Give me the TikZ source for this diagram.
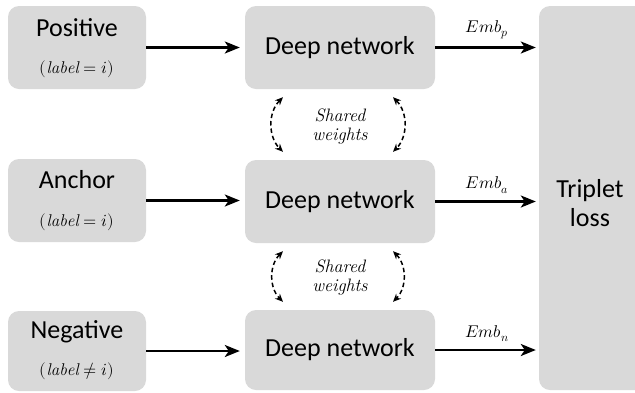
\documentclass[tikz,border=0pt]{standalone}
\usepackage{fontspec}
\usepackage{unicode-math}
\setmathfont{Latin Modern Math}
\newfontfamily\calfont{Carlito}
\usetikzlibrary{arrows.meta}
\definecolor{boxgray}{HTML}{D9D9D9}
\tikzset{
  gbox/.style={fill=boxgray, draw=none, rounded corners=11pt, inner sep=0pt},
  bigfont/.style={font=\calfont\fontsize{26}{29}\selectfont},
  bigtxt/.style={bigfont, inner sep=0pt, anchor=base, align=center},
  lbltxt/.style={font=\fontsize{17}{19}\selectfont, inner sep=0pt, anchor=base},
  embtxt/.style={font=\fontsize{17}{20}\selectfont, inner sep=0pt},
  swtxt/.style={font=\fontsize{18}{19}\selectfont\itshape, align=center, inner sep=0pt},
  flow/.style={line width=2.4pt, -{Stealth[length=15pt,width=12pt,inset=4pt]}},
  shared/.style={line width=1.5pt, dash pattern=on 4.5pt off 3pt, {Stealth[length=8pt,width=7pt]}-{Stealth[length=8pt,width=7pt]}}
}
\begin{document}
\begin{tikzpicture}[x=1pt,y=-1pt]
\useasboundingbox (0,0) rectangle (635,392);
\clip (0,0) rectangle (635,392);
% input boxes
\node[gbox, minimum width=138pt, minimum height=83pt] (pos) at (77,47.5) {};
\node[gbox, minimum width=138pt, minimum height=83pt] (anc) at (77,200.5) {};
\node[gbox, minimum width=138pt, minimum height=80pt] (neg) at (77,351) {};
\node[bigtxt] (posT) at ([yshift=11pt]pos.center) {Positive};
\node[lbltxt] (posL) at ([yshift=-26pt]pos.center) {$(\mathit{label}=i)$};
\node[bigtxt] (ancT) at ([yshift=12pt]anc.center) {Anchor};
\node[lbltxt] (ancL) at ([yshift=-26pt]anc.center) {$(\mathit{label}=i)$};
\node[bigtxt] (negT) at ([yshift=13pt]neg.center) {Negative};
\node[lbltxt] (negL) at ([yshift=-24pt]neg.center) {$(\mathit{label}\neq i)$};
% deep networks
\node[gbox, minimum width=190pt, minimum height=83pt] (dn1) at (340,47.5) {};
\node[gbox, minimum width=190pt, minimum height=83pt] (dn2) at (340,201.5) {};
\node[gbox, minimum width=190pt, minimum height=80pt] (dn3) at (340,350) {};
\node[bigfont, inner sep=0pt] (dn1T) at (dn1.center) {Deep network};
\node[bigfont, inner sep=0pt] (dn2T) at (dn2.center) {Deep network};
\node[bigfont, inner sep=0pt] (dn3T) at (dn3.center) {Deep network};
% triplet loss
\node[gbox, minimum width=112pt, minimum height=384pt] (tl) at (595,198) {};
\node[bigfont, inner sep=0pt, align=center] (tlT) at (590,203) {Triplet\\loss};
% flows
\draw[flow, shorten >=5pt] (pos.east) -- (pos.east -| dn1.west);
\draw[flow, shorten >=5pt] (anc.east) -- (anc.east -| dn2.west);
\draw[flow, shorten >=5pt] (neg.east) -- (neg.east -| dn3.west);
\draw[flow, shorten >=3pt] (dn1.east) -- (dn1.east -| tl.west) node[embtxt, midway, above=7pt] (e1) {$Emb_p$};
\draw[flow, shorten >=3pt] (dn2.east) -- (dn2.east -| tl.west) node[embtxt, midway, above=7pt] (e2) {$Emb_a$};
\draw[flow, shorten >=3pt] (dn3.east) -- (dn3.east -| tl.west) node[embtxt, midway, above=7pt] (e3) {$Emb_n$};
% shared weights
\node[swtxt] (sw1) at (340,126) {Shared\\weights};
\node[swtxt] (sw2) at (340,277) {Shared\\weights};
\draw[shared] ([xshift=-57pt,yshift=-8pt]dn1.south) to[bend right=45] ([xshift=-57pt,yshift=8pt]dn2.north);
\draw[shared] ([xshift=53pt,yshift=-8pt]dn1.south) to[bend left=45] ([xshift=53pt,yshift=8pt]dn2.north);
\draw[shared] ([xshift=-57pt,yshift=-8pt]dn2.south) to[bend right=45] ([xshift=-57pt,yshift=8pt]dn3.north);
\draw[shared] ([xshift=53pt,yshift=-8pt]dn2.south) to[bend left=45] ([xshift=53pt,yshift=8pt]dn3.north);
\end{tikzpicture}
\end{document}
